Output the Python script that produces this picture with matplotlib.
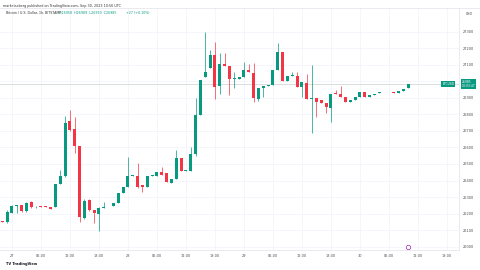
import numpy as np
import matplotlib.pyplot as plt

# hourly BTC/USD candles, hour 0 = Sep 27 00:00 UTC
hours = list(range(-2, 83))
opens = [26152, 26150, 26205, 26245, 26251, 26215, 26272, 26237, 26243, 26245,
         26238, 26240, 26379, 26427, 26761, 26712, 26611, 26171, 26282, 26221,
         26195, 26235, 26241, 26245, 26266, 26322, 26363, 26428, 26429, 26373,
         26363, 26429, 26429, 26450, 26443, 26383, 26409, 26538, 26458, 26460,
         26561, 26795, 27029, 27080, 27161, 26975, 27104, 27094, 27017, 27017,
         27029, 27070, 27050, 26894, 26963, 26973, 26979, 27070, 27177, 27005,
         27033, 27033, 26969, 26989, 26893, 26902, 26888, 26868, 26841, 26932,
         26922, 26908, 26876, 26888, 26908, 26938, 26904, 26918, 26930, 26936,
         26938, 26935, 26932, 26942, 26958]
closes = [26150, 26211, 26245, 26250, 26215, 26266, 26237, 26242, 26240, 26237,
          26229, 26379, 26427, 26750, 26706, 26611, 26177, 26278, 26221, 26205,
          26235, 26241, 26238, 26266, 26322, 26363, 26429, 26433, 26363, 26363,
          26429, 26433, 26450, 26433, 26389, 26409, 26534, 26458, 26462, 26561,
          26795, 27009, 27059, 27161, 26969, 27104, 27096, 27017, 27023, 27025,
          27070, 27060, 26898, 26963, 26973, 26979, 27070, 27177, 27003, 27033,
          27039, 26969, 26999, 26892, 26900, 26878, 26868, 26843, 26922, 26922,
          26908, 26878, 26888, 26908, 26934, 26904, 26918, 26925, 26936, 26938,
          26935, 26930, 26942, 26954, 26985]

# wick extremes where they stick out of the body
wick_hi = {-1: 26221, 0: 26252, 1: 26253, 3: 26268, 4: 26276, 5: 26246, 8: 26240,
           10: 26464, 11: 26790, 12: 26827, 13: 26787, 15: 26285, 16: 26290,
           18: 26240, 19: 26272, 24: 26544, 26: 26504, 31: 26484, 34: 26585,
           37: 26605, 38: 26898, 40: 27302, 41: 27191, 42: 27241, 43: 27171,
           44: 27171, 46: 27059, 48: 27120, 49: 27106, 50: 27110, 55: 27235,
           58: 27060, 59: 27060, 61: 27045, 62: 27100, 67: 26948, 68: 26973}
wick_lo = {-1: 26140, 0: 26201, 1: 26205, 2: 26212, 3: 26212, 4: 26232, 5: 26232,
           8: 26225, 11: 26420, 12: 26700, 13: 26565, 14: 26150, 15: 26165,
           16: 26215, 17: 26141, 18: 26094, 26: 26353, 27: 26332, 38: 26550,
           42: 26892, 43: 26924, 45: 26918, 46: 26958, 50: 26878, 51: 26880,
           52: 26908, 60: 26908, 62: 26690, 63: 26787, 65: 26811, 66: 26756}

price_ticks = list(range(26000, 27400, 100))
time_ticks = list(range(0, 91, 6))
time_labels = ['27', '06:00', '12:00', '18:00', '28', '06:00', '12:00', '18:00',
               '29', '06:00', '12:00', '18:00', '30', '06:00', '12:00', '18:00']
last_price = 26985

UP = '#089981'
DOWN = '#f23645'

hours = np.array(hours)
opens = np.array(opens)
closes = np.array(closes)
highs = np.array([max(wick_hi.get(h, 0), o, c) for h, o, c in zip(hours, opens, closes)])
lows = np.array([min(wick_lo.get(h, 1e9), o, c) for h, o, c in zip(hours, opens, closes)])
colors = [UP if c >= o else DOWN for o, c in zip(opens, closes)]

fig = plt.figure(figsize=(4.8, 2.7), dpi=100)
ax = fig.add_axes([0, 20 / 270, 459 / 480, 242 / 270])

for t in price_ticks:
    ax.axhline(t, color='#f0f3fa', lw=0.5, zorder=0)
for t in time_ticks:
    ax.axvline(t, color='#f0f3fa', lw=0.5, zorder=0)

ax.vlines(hours, lows, highs, colors=colors, lw=0.5, zorder=2)
body = np.maximum(np.abs(closes - opens), 2)
ax.bar(hours, body, bottom=np.minimum(opens, closes), width=0.62,
       color=colors, lw=0, zorder=3)

ax.axhline(last_price, color='#c9d3cf', lw=0.5, zorder=1)

ax.set_xlim(-2.48, 92.5)
ax.set_ylim(25979, 27445)

ax.yaxis.tick_right()
ax.set_yticks(price_ticks)
# 27000 sits under the last-price box, as on the original
ax.set_yticklabels(['' if t == 27000 else str(t) for t in price_ticks])
ax.set_xticks(time_ticks)
ax.set_xticklabels(time_labels)
ax.tick_params(axis='both', length=0, labelsize=2.5, labelcolor='#4a4a4a', pad=3)
for s in ['left', 'top']:
    ax.spines[s].set_visible(False)
for s in ['right', 'bottom']:
    ax.spines[s].set_color('#e0e3eb')
    ax.spines[s].set_linewidth(0.5)

# price label boxes on the right edge
ax.text(1.006, last_price, f'{last_price}\n00:03:47', transform=ax.get_yaxis_transform(),
        ha='left', va='center', fontsize=2.2, color='white', zorder=6,
        bbox=dict(boxstyle='square,pad=0.35', fc=UP, ec='none'), clip_on=False)
ax.text(0.99, last_price, 'BTCUSD', transform=ax.get_yaxis_transform(),
        ha='right', va='center', fontsize=2.2, color='white', zorder=6,
        bbox=dict(boxstyle='square,pad=0.35', fc=UP, ec='none'))

# event marker near the bottom
ax.plot([82], [26000], marker='o', ms=3.2, mfc='white', mec='#9c27b0', mew=0.5, zorder=5,
        clip_on=False)

fig.text(0.006, 0.985, 'marketsoberg published on TradingView.com, Sep 30, 2023 10:56 UTC',
         fontsize=2.4, color='#333333', va='top')
fig.add_artist(plt.Line2D([0, 1], [262 / 270, 262 / 270], color='#e0e3eb', lw=0.5))
fig.text(0.013, 0.95, 'Bitcoin / U.S. Dollar, 1h, BITSTAMP', fontsize=2.3,
         color='#333333', va='center')
fig.text(0.122, 0.95, 'O26958  H26989  L26950  C26985', fontsize=2.3,
         color=UP, va='center')
fig.text(0.262, 0.95, '+27 (+0.10%)', fontsize=2.3, color=UP, va='center')
fig.text(0.978, 0.948, 'USD', fontsize=2.3, color='#4a4a4a', va='center', ha='center')
fig.text(0.012, 0.022, 'TV TradingView', fontsize=2.6, color='#131722',
         fontweight='bold', va='center')

fig.savefig('out.png', dpi=100, facecolor='white')
